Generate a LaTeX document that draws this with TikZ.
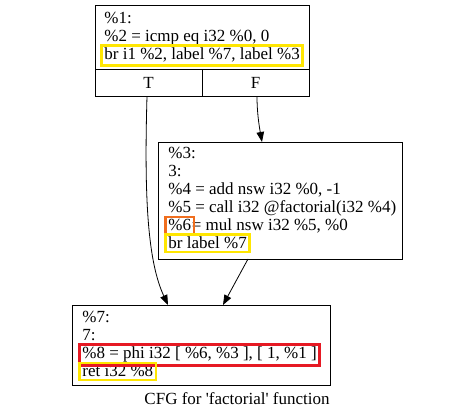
\documentclass[tikz,border=0pt]{standalone}
\usepackage{fontspec}
\setmainfont{Liberation Serif}
\usetikzlibrary{arrows.meta, fit}

\begin{document}
\begin{tikzpicture}[x=1pt,y=-1pt,->,>={Triangle[length=10pt,width=7.5pt]},
 line width=0.8pt,
 block/.style={draw,rectangle,inner sep=0pt,-},
 code line/.style={anchor=base west,inner sep=0pt,font=\fontsize{17}{18}\selectfont},
 hlbox/.style={draw=#1,line width=2.5pt,inner sep=2.5pt,-}]
\useasboundingbox (0,0) rectangle (475,419);
\definecolor{hlyellow}{RGB}{255,230,0}
\definecolor{hlorange}{RGB}{240,110,30}
\definecolor{hlred}{RGB}{230,25,35}

% entry block %1
\node[block,minimum width=214pt,minimum height=64pt](b1) at (202,37){};
\node[block,minimum width=107pt,minimum height=27pt,font=\fontsize{17}{18}\selectfont](T) at (148.5,82.5){T};
\node[block,minimum width=107pt,minimum height=27pt,font=\fontsize{17}{18}\selectfont](F) at (255.5,82.5){F};
\node[code line](l11) at (104,24){\%1:};
\node[code line](l12) at (104,42){\%2 = icmp eq i32 \%0, 0};
\node[code line](l13) at (104,60){br i1 \%2, label \%7, label \%3};
\node[hlbox=hlyellow,fit=(l13)]{};

% block %3
\node[block,minimum width=244pt,minimum height=117pt](b3) at (280,200.5){};
\node[code line](l31) at (168,159){\%3:};
\node[code line](l32) at (168,177){3:};
\node[code line](l33) at (168,195){\%4 = add nsw i32 \%0, -1};
\node[code line](l34) at (168,213){\%5 = call i32 @factorial(i32 \%4)};
\node[code line](l35a) at (168,231){\%6};
\node[code line](l35b) at (l35a.base east){ = mul nsw i32 \%5, \%0};
\node[code line](l36) at (168,249){br label \%7};
\node[hlbox=hlorange,fit=(l35a)]{};
\node[hlbox=hlyellow,fit=(l36)]{};

% block %7
\node[block,minimum width=258pt,minimum height=80pt](b7) at (201,345){};
\node[code line](l71) at (82,323){\%7:};
\node[code line](l72) at (82,341){7:};
\node[code line](l73) at (82,359){\%8 = phi i32 [ \%6, \%3 ], [ 1, \%1 ]};
\node[code line](l74) at (82,377){ret i32 \%8};
\node[hlbox=hlred,fit=(l73)]{};
\node[hlbox=hlyellow,fit=(l74)]{};

\node[anchor=base,inner sep=0pt,font=\fontsize{17}{18}\selectfont](cap) at (237,405){CFG for \textquotesingle factorial\textquotesingle{} function};

% edges
\coordinate (in3) at (262,142);
\coordinate (inT) at (168,305);
\coordinate (in7) at (223,305);
\coordinate (out3) at (248,259);
\draw (T.south -| 147,0) .. controls (144,200) and (148,262) .. (inT);
\draw (F.south -| 257,0) .. controls (257,112) and (259,125) .. (in3);
\draw (out3) -- (in7);
\end{tikzpicture}
\end{document}
